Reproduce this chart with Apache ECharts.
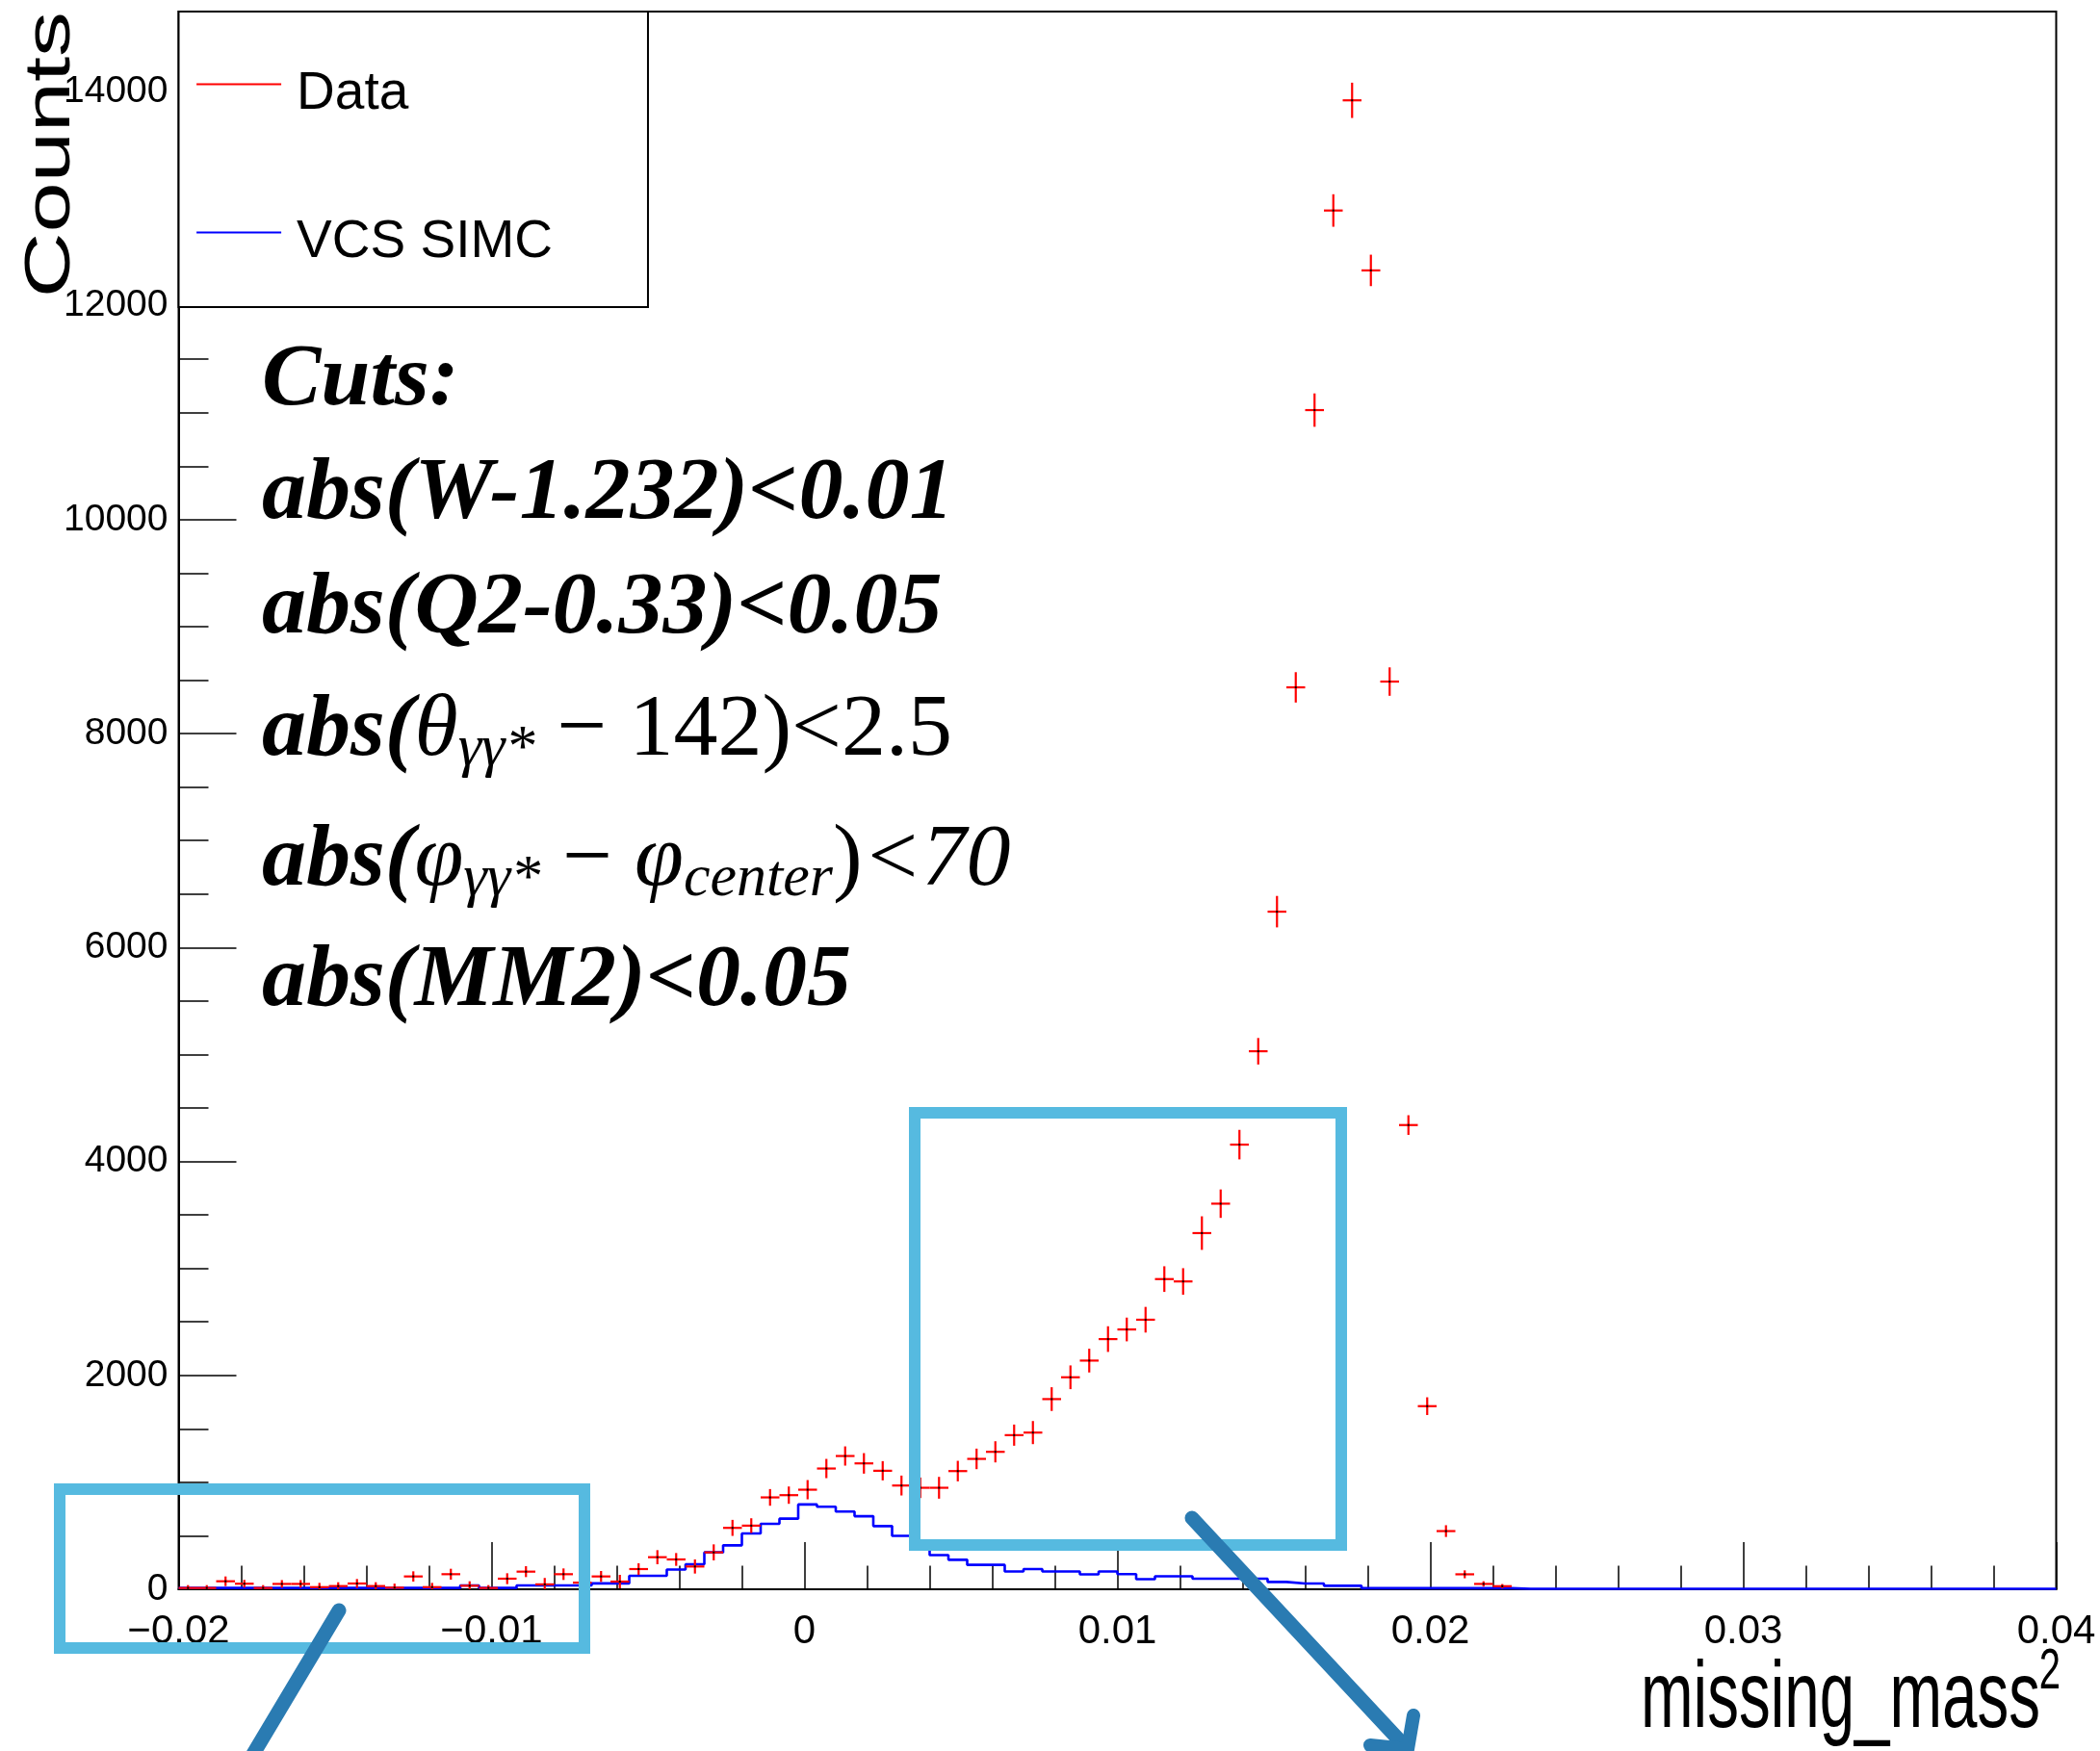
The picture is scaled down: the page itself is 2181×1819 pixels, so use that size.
<!DOCTYPE html>
<html>
<head>
<meta charset="utf-8">
<title>missing_mass^2 : Data vs VCS SIMC</title>
<script src="https://cdn.jsdelivr.net/npm/echarts@6/dist/echarts.min.js"></script>
<style>
  html, body { margin: 0; padding: 0; background: #fff; }
  #chart { width: 2181px; height: 1819px; }
</style>
</head>
<body>
<div id="chart"></div>
<script>
// Histogram binning: 100 bins of 0.0006 between -0.02 and 0.04
const xMin = -0.02;
const xMax = 0.04;
const binWidth = 0.0006;

// Data counts per bin (bins 0..70; higher bins are empty)
const dataCounts = [
  12, 12, 75, 52, 12, 50, 50, 20, 30, 54,
  30, 15, 120, 20, 141, 33, 12, 99, 165, 46,
  141, 62, 120, 72, 189, 300, 279, 213, 345, 574,
  595, 859, 880, 931, 1129, 1246, 1177, 1108, 970, 949,
  949, 1105, 1219, 1285, 1441, 1465, 1778, 1982, 2138, 2339,
  2429, 2520, 2900, 2878, 3330, 3605, 4157, 5030, 6335, 8432,
  11024, 12890, 13920, 12330, 8486, 4340, 1712, 544, 140, 50,
  29
];
// Vertical error-bar half lengths for the data bins
const dataErrors = [
  27, 27, 45, 36, 27, 36, 36, 40, 36, 42,
  36, 38, 48, 40, 51, 42, 27, 51, 51, 60,
  54, 52, 51, 63, 54, 66, 60, 66, 75, 75,
  69, 78, 81, 90, 90, 90, 96, 90, 93, 96,
  102, 96, 96, 99, 99, 108, 111, 111, 111, 120,
  111, 120, 120, 124, 157, 133, 138, 124, 147, 142,
  156, 152, 165, 147, 133, 92, 83, 55, 37, 25,
  20
];
// VCS SIMC counts per bin (all 100 bins)
const mcCounts = [
  12, 12, 12, 12, 12, 12, 12, 12, 12, 12, 12, 12, 12, 12, 12,
  36, 12, 12, 36, 36, 36, 36, 55, 55, 126, 126,
  185, 234, 345, 411, 522, 612, 660, 793, 772, 727, 683, 591, 500, 420,
  320, 276, 228, 228, 166, 189, 166, 166, 140, 166, 142, 95, 122, 122,
  99, 99, 99, 99, 69, 54, 54, 33, 33,
  10, 10, 10, 10, 10, 10, 10, 10,
  5, 5, 5, 5, 5, 5, 5, 5, 5, 5, 5, 5, 5, 5, 5, 5, 5, 5, 5, 5, 5, 5, 5, 5, 5, 5, 5, 5, 5
];
// Axis ticks
const xTickStep = 0.01;
const yTickStep = 2000;
const yMax = 14750;

const sans = "'Liberation Sans', Arial, Helvetica, sans-serif";
const serif = "'Liberation Serif', 'Times New Roman', serif";

// Data points: [bin centre, count, error]
const dataPoints = dataCounts.map((c, i) => [xMin + binWidth * (i + 0.5), c, dataErrors[i]]);
// Step outline: left edge of every bin, plus the closing right edge
const mcStep = mcCounts.map((c, i) => [xMin + binWidth * i, c]);
mcStep.push([xMax, mcCounts[mcCounts.length - 1]]);

const chart = echarts.init(document.getElementById('chart'), null, { renderer: 'canvas' });

// One data bin: horizontal bar over the bin width, vertical error bar, small centre dot
function renderCross(params, api) {
  const x = api.value(0), y = api.value(1), e = api.value(2);
  const pL = api.coord([x - binWidth / 2, y]);
  const pR = api.coord([x + binWidth / 2, y]);
  const pT = api.coord([x, y + e]);
  const pB = api.coord([x, y - e]);
  const c = api.coord([x, y]);
  const red = { stroke: '#ff0000', lineWidth: 2.2 };
  return {
    type: 'group',
    children: [
      { type: 'line', shape: { x1: pL[0], y1: pL[1], x2: pR[0], y2: pR[1] }, style: red },
      { type: 'line', shape: { x1: pT[0], y1: pT[1], x2: pB[0], y2: pB[1] }, style: red },
      { type: 'rect', shape: { x: c[0] - 1, y: c[1] - 1, width: 2, height: 2 }, style: { fill: '#000' } }
    ]
  };
}

const cutSize = 92;
const cutStyles = {
  b: { fontFamily: serif, fontStyle: 'italic', fontWeight: 'bold', fontSize: cutSize, lineHeight: 100, fill: '#000' },
  i: { fontFamily: serif, fontStyle: 'italic', fontWeight: 'normal', fontSize: cutSize, lineHeight: 100, fill: '#000' },
  r: { fontFamily: serif, fontStyle: 'normal', fontWeight: 'normal', fontSize: cutSize, lineHeight: 100, fill: '#000' },
  s: { fontFamily: serif, fontStyle: 'italic', fontWeight: 'normal', fontSize: 62, lineHeight: 22, verticalAlign: 'bottom', fill: '#000' }
};
function cutLine(text, baseline) {
  return {
    type: 'text', x: 272, y: baseline - 81, z: 50,
    style: { text: text, rich: cutStyles, align: 'left', verticalAlign: 'top', fill: '#000' }
  };
}

const boxBlue = '#56bae0';
const arrowBlue = '#2a7bb2';

chart.setOption({
  animation: false,
  backgroundColor: '#ffffff',
  grid: {
    left: 185.5, right: 45.5, top: 12, bottom: 168,
    show: true, borderColor: '#000', borderWidth: 2, backgroundColor: 'transparent'
  },
  legend: {
    orient: 'vertical',
    left: 185.5, top: 12,
    padding: [38, 99, 40, 18.6],
    itemGap: 79,
    itemWidth: 88, itemHeight: 2,
    backgroundColor: '#fff',
    borderColor: '#000', borderWidth: 2, borderRadius: 0,
    selectedMode: false,
    formatter: name => '{t|' + name + '}',
    textStyle: {
      color: '#000',
      rich: {
        t: { fontFamily: sans, fontSize: 55, lineHeight: 56, color: '#000', padding: [20, 0, 0, 11] }
      }
    },
    data: [
      { name: 'Data', icon: 'rect' },
      { name: 'VCS SIMC', icon: 'rect' }
    ]
  },
  xAxis: {
    type: 'value', min: xMin, max: xMax, interval: xTickStep,
    axisLine: { show: true, onZero: false, lineStyle: { color: '#000', width: 2 } },
    axisTick: { show: true, inside: true, length: 49, lineStyle: { color: '#000', width: 1.5 } },
    minorTick: { show: true, splitNumber: 5, length: 24.5, lineStyle: { color: '#000', width: 1.5 } },
    splitLine: { show: false },
    axisLabel: {
      margin: 23, color: '#000', fontFamily: sans, fontSize: 42,
      formatter: v => Math.abs(v) < 1e-12 ? '0' : (v < 0 ? '\u2212' : '') + Math.abs(v).toFixed(2)
    }
  },
  yAxis: {
    type: 'value', min: 0, max: yMax, interval: yTickStep,
    axisLine: { show: true, onZero: false, lineStyle: { color: '#000', width: 2 } },
    axisTick: { show: true, inside: true, length: 60, lineStyle: { color: '#000', width: 1.5 } },
    minorTick: { show: true, splitNumber: 4, length: 31, lineStyle: { color: '#000', width: 1.5 } },
    splitLine: { show: false },
    axisLabel: {
      margin: 11, color: '#000', fontFamily: sans, fontSize: 39,
      showMaxLabel: false,
      formatter: v => String(v)
    }
  },
  series: [
    {
      name: 'VCS SIMC',
      type: 'line',
      step: 'end',
      data: mcStep,
      symbol: 'none',
      color: '#0000ff',
      itemStyle: { color: '#0000ff' },
      lineStyle: { color: '#0000ff', width: 2.6 },
      z: 2,
      clip: true
    },
    {
      name: 'Data',
      type: 'custom',
      renderItem: renderCross,
      data: dataPoints,
      color: '#ff0000',
      itemStyle: { color: '#ff0000' },
      encode: { x: 0, y: 1 },
      clip: true,
      z: 3
    }
  ],
  graphic: [
    // axis titles
    {
      type: 'text', x: 54, y: 12, rotation: Math.PI / 2, scaleX: 1.4, z: 20,
      style: { text: 'Counts', fontFamily: sans, fontSize: 67, fill: '#000', align: 'right', verticalAlign: 'middle' }
    },
    {
      type: 'text', x: 2119, y: 1766.6, scaleY: 1.49, z: 20,
      style: { text: 'missing_mass', fontFamily: sans, fontSize: 65.5, fill: '#000', align: 'right', verticalAlign: 'middle' }
    },
    {
      type: 'text', x: 2140, y: 1737.3, scaleY: 1.49, z: 20,
      style: { text: '2', fontFamily: sans, fontSize: 40, fill: '#000', align: 'right', verticalAlign: 'middle' }
    },
    // cut list
    cutLine('{b|Cuts:}', 427),
    cutLine('{b|abs(W-1.232)<0.01}', 545),
    cutLine('{b|abs(Q2-0.33)<0.05}', 664),
    cutLine('{b|abs(}{i|\u03b8}{s|\u03b3\u03b3*}{r| \u2212 142)<2.5}', 791),
    cutLine('{b|abs(}{i|\u03c6}{s|\u03b3\u03b3*}{r| \u2212 }{i|\u03c6}{s|center}{r|)}{i|<70}', 926),
    cutLine('{b|abs(MM2)<0.05}', 1051),
    // highlight boxes
    {
      type: 'rect', z: 60,
      shape: { x: 62, y: 1547, width: 545, height: 165 },
      style: { fill: null, stroke: boxBlue, lineWidth: 12 }
    },
    {
      type: 'rect', z: 60,
      shape: { x: 950, y: 1156, width: 443, height: 449 },
      style: { fill: null, stroke: boxBlue, lineWidth: 12 }
    },
    // pointer arrows
    {
      type: 'polyline', z: 61,
      shape: { points: [[352, 1673], [263, 1822]] },
      style: { stroke: arrowBlue, lineWidth: 15, fill: null, lineCap: 'round' }
    },
    {
      type: 'polyline', z: 61,
      shape: { points: [[1238, 1577], [1460, 1815]] },
      style: { stroke: arrowBlue, lineWidth: 15, fill: null, lineCap: 'round' }
    },
    {
      type: 'polyline', z: 61,
      shape: { points: [[1468, 1782], [1462, 1817], [1423, 1813]] },
      style: { stroke: arrowBlue, lineWidth: 14, fill: null, lineCap: 'round', lineJoin: 'round' }
    }
  ]
});
</script>
</body>
</html>
